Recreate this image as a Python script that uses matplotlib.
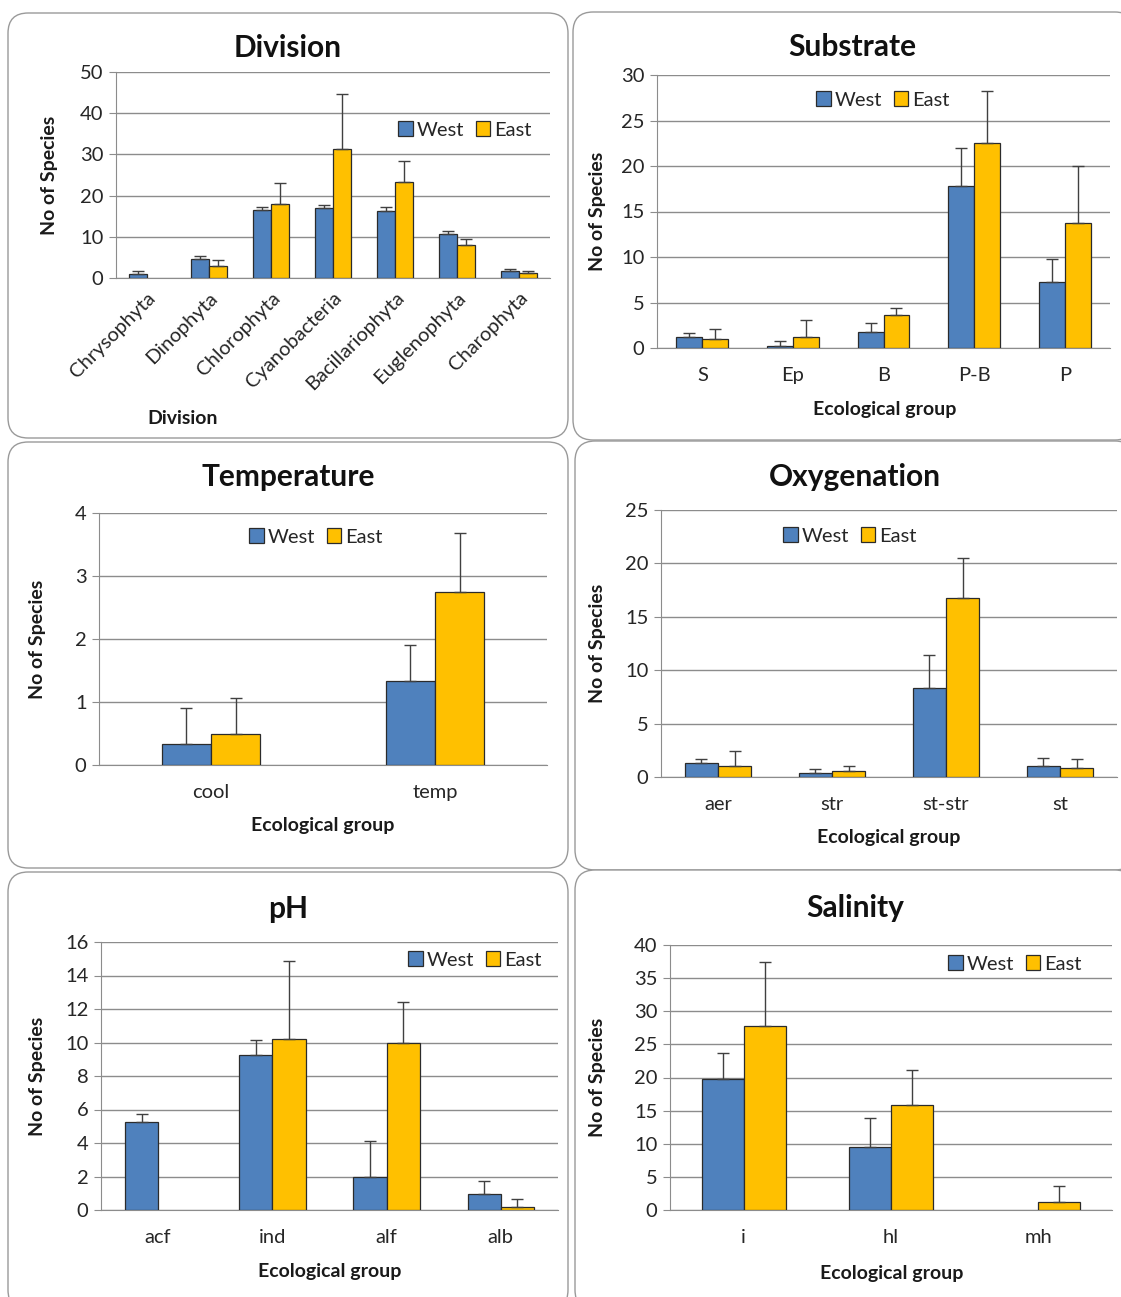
import matplotlib
matplotlib.use("Agg")
import matplotlib.pyplot as plt
from matplotlib.patches import FancyBboxPatch
import numpy as np

plt.rcParams['font.family'] = ['Lato', 'DejaVu Sans']

# ---------------- data ----------------
division_cats = ["Chrysophyta", "Dinophyta", "Chlorophyta", "Cyanobacteria",
                 "Bacillariophyta", "Euglenophyta", "Charophyta"]
division_west = [1.0, 4.6, 16.4, 17.0, 16.2, 10.6, 1.6]
division_west_err = [0.8, 0.8, 0.8, 0.7, 1.0, 0.8, 0.7]
division_east = [0.0, 3.0, 18.0, 31.2, 23.2, 8.0, 1.1]
division_east_err = [0.0, 1.3, 5.0, 13.4, 5.2, 1.5, 0.5]

substrate_cats = ["S", "Ep", "B", "P-B", "P"]
substrate_west = [1.2, 0.25, 1.75, 17.8, 7.3]
substrate_west_err = [0.5, 0.5, 0.95, 4.2, 2.45]
substrate_east = [1.0, 1.2, 3.6, 22.5, 13.7]
substrate_east_err = [1.1, 1.85, 0.85, 5.7, 6.35]

temperature_cats = ["cool", "temp"]
temperature_west = [0.34, 1.34]
temperature_west_err = [0.57, 0.57]
temperature_east = [0.50, 2.75]
temperature_east_err = [0.57, 0.94]

oxygen_cats = ["aer", "str", "st-str", "st"]
oxygen_west = [1.3, 0.35, 8.3, 1.05]
oxygen_west_err = [0.4, 0.4, 3.15, 0.75]
oxygen_east = [1.05, 0.53, 16.75, 0.84]
oxygen_east_err = [1.35, 0.53, 3.8, 0.84]

ph_cats = ["acf", "ind", "alf", "alb"]
ph_west = [5.25, 9.23, 1.96, 0.96]
ph_west_err = [0.46, 0.92, 2.14, 0.76]
ph_east = [0.0, 10.21, 9.97, 0.2]
ph_east_err = [0.0, 4.64, 2.42, 0.46]

salinity_cats = ["i", "hl", "mh"]
salinity_west = [19.7, 9.55, 0.0]
salinity_west_err = [4.0, 4.35, 0.0]
salinity_east = [27.8, 15.8, 1.2]
salinity_east_err = [9.7, 5.4, 2.37]

series_names = ["West", "East"]
WEST_COLOR = "#4F81BD"
EAST_COLOR = "#FFC000"

TICK_FS = 14.5
LABEL_FS = 14
LEGEND_FS = 14.5
TITLE_FS = 21.5

W, H = 1121, 1297
fig = plt.figure(figsize=(W / 100, H / 100), dpi=100)
fig.patch.set_facecolor("white")


def px_box(x0, y0, x1, y1):
    """Rounded panel frame given in pixel coords (origin top-left)."""
    patch = FancyBboxPatch((x0 / W, 1 - y1 / H), (x1 - x0) / W, (y1 - y0) / H,
                           boxstyle="round,pad=0,rounding_size=0.018",
                           mutation_aspect=W / H,
                           transform=fig.transFigure, facecolor="white",
                           edgecolor="#9a9a9a", linewidth=1.0, zorder=0)
    fig.add_artist(patch)


def panel(rect_px, cats, west, west_err, east, east_err, ymax, ystep, width,
          title, title_xy, xlabel, xlabel_xy, ylabel_x, legend_xy,
          rotate=False, tick_pad=14):
    x0, y0, x1, y1 = rect_px
    ax = fig.add_axes([x0 / W, 1 - y1 / H, (x1 - x0) / W, (y1 - y0) / H])
    ax.set_facecolor("none")
    n = len(cats)
    x = np.arange(n)
    for vals, errs, off, color, name in [
            (west, west_err, -width / 2, WEST_COLOR, series_names[0]),
            (east, east_err, width / 2, EAST_COLOR, series_names[1])]:
        vals_a = np.asarray(vals, dtype=float)
        errs_a = np.asarray(errs, dtype=float)
        nz = vals_a > 0
        ax.bar((x + off)[nz], vals_a[nz], width=width, color=color,
               edgecolor="#2b2b2b", linewidth=0.9, label=name, zorder=3)
        m = errs_a > 0
        ax.errorbar((x + off)[m], vals_a[m],
                    yerr=[np.zeros(m.sum()), errs_a[m]],
                    fmt="none", ecolor="#404040", elinewidth=1.0,
                    capsize=4, capthick=1.0, zorder=4)
    ax.set_xlim(-0.5, n - 0.5)
    ax.set_ylim(0, ymax)
    ax.set_yticks(np.arange(0, ymax + ystep / 2, ystep))
    ax.yaxis.grid(True, color="#8c8c8c", linewidth=1.0, zorder=0)
    ax.set_axisbelow(True)
    for s in ["top", "right"]:
        ax.spines[s].set_visible(False)
    ax.spines["left"].set_color("#8c8c8c")
    ax.spines["bottom"].set_color("#8c8c8c")
    ax.tick_params(axis="y", length=5, color="#8c8c8c", labelsize=TICK_FS,
                   labelcolor="#262626", pad=4)
    ax.tick_params(axis="x", length=0, labelsize=TICK_FS, labelcolor="#262626",
                   pad=tick_pad)
    ax.set_xticks(x)
    if rotate:
        ax.set_xticklabels(cats, rotation=45, ha="right",
                           rotation_mode="anchor")
    else:
        ax.set_xticklabels(cats)
    ax.set_ylabel("No of Species", fontsize=LABEL_FS, fontweight="bold",
                  color="#1a1a1a")
    ax.yaxis.label.set_va("center")
    ax.yaxis.set_label_coords(ylabel_x / W, 1 - (y0 + y1) / 2 / H,
                              transform=fig.transFigure)
    fig.text(title_xy[0] / W, 1 - title_xy[1] / H, title, fontsize=TITLE_FS,
             fontweight="bold", ha="center", va="center", color="#111111")
    fig.text(xlabel_xy[0] / W, 1 - xlabel_xy[1] / H, xlabel, fontsize=LABEL_FS,
             fontweight="bold", ha="center", va="center", color="#1a1a1a")
    leg = ax.legend(loc="center", bbox_to_anchor=(legend_xy[0] / W,
                                                  1 - legend_xy[1] / H),
                    bbox_transform=fig.transFigure, ncol=2, frameon=False,
                    fontsize=LEGEND_FS, handlelength=0.7, handleheight=0.7,
                    handletextpad=0.2, columnspacing=0.6, borderpad=0)
    for t in leg.get_texts():
        t.set_color("#262626")
    return ax


# panel frames
px_box(8, 13, 568, 438)
px_box(573, 12, 1135, 440)
px_box(8, 442, 568, 868)
px_box(575, 441, 1135, 870)
px_box(8, 872, 568, 1310)
px_box(575, 870, 1135, 1310)

panel((116, 72, 550, 278), division_cats, division_west, division_west_err,
      division_east, division_east_err, 50, 10, 0.29,
      "Division", (288, 48), "Division", (183, 418), 50, (465, 130),
      rotate=True, tick_pad=8)

panel((657, 75, 1110, 348), substrate_cats, substrate_west, substrate_west_err,
      substrate_east, substrate_east_err, 30, 5, 0.285,
      "Substrate", (852, 47), "Ecological group", (885, 409), 597, (883, 100))

panel((99, 513, 547, 765), temperature_cats, temperature_west,
      temperature_west_err, temperature_east, temperature_east_err, 4, 1, 0.22,
      "Temperature", (288, 477), "Ecological group", (323, 826), 38,
      (316, 537))

panel((661, 510, 1117, 777), oxygen_cats, oxygen_west, oxygen_west_err,
      oxygen_east, oxygen_east_err, 25, 5, 0.29,
      "Oxygenation", (855, 477), "Ecological group", (889, 838), 597,
      (850, 536))

panel((101, 942, 558, 1210), ph_cats, ph_west, ph_west_err,
      ph_east, ph_east_err, 16, 2, 0.29,
      "pH", (288, 909), "Ecological group", (330, 1272), 38, (475, 960))

panel((670, 945, 1112, 1210), salinity_cats, salinity_west, salinity_west_err,
      salinity_east, salinity_east_err, 40, 5, 0.286,
      "Salinity", (855, 908), "Ecological group", (892, 1273), 598,
      (1015, 964))

fig.savefig("out.png", dpi=100, facecolor="white")
